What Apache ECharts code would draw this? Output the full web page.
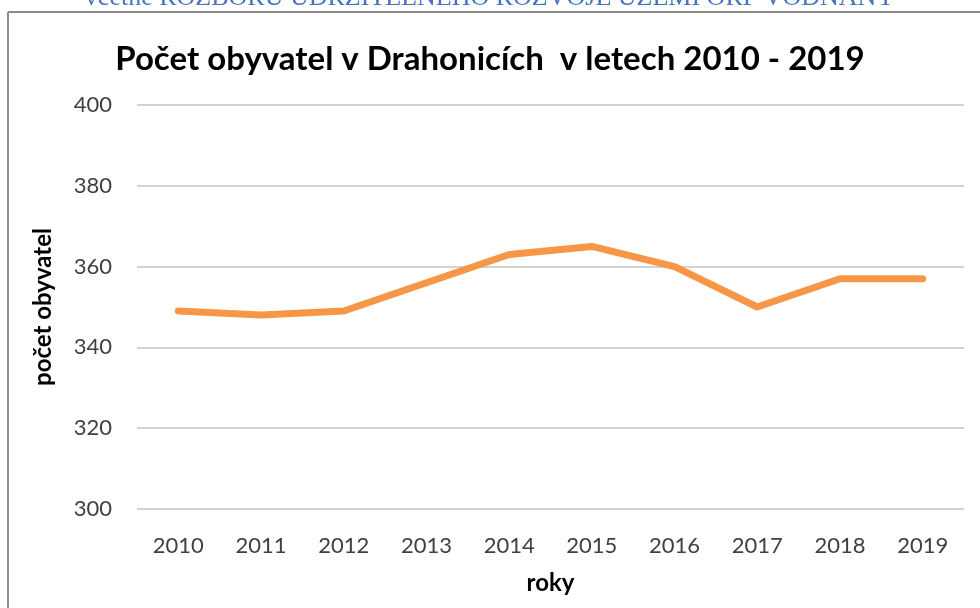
<!DOCTYPE html>
<html>
<head>
<meta charset="utf-8">
<script src="https://cdn.jsdelivr.net/npm/echarts@6/dist/echarts.min.js"></script>
<style>html,body{margin:0;padding:0;background:#fff;}#c{width:980px;height:608px;}</style>
</head>
<body>
<div id="c"></div>
<script>
const years = ['2010','2011','2012','2013','2014','2015','2016','2017','2018','2019'];
const population = [349, 348, 349, 356, 363, 365, 360, 350, 357, 357];
const titleText = 'Počet obyvatel v Drahonicích  v letech 2010 - 2019';
const headerText = 'včetně ROZBORU UDRŽITELNÉHO ROZVOJE ÚZEMÍ ORP VODŇANY';
const yName = 'počet obyvatel';
const xName = 'roky';

const chart = echarts.init(document.getElementById('c'), null, {renderer: 'canvas'});
chart.setOption({
  backgroundColor: '#fff',
  animation: false,
  title: {
    text: titleText,
    left: 'center',
    top: 38,
    textStyle: {fontFamily: 'Lato', fontWeight: 'bold', fontSize: 33, color: '#000'}
  },
  graphic: [
    {type: 'text', left: 'center', top: -15, style: {text: headerText, font: '26px "Liberation Serif"', fill: '#4472C4'}},
    {type: 'line', shape: {x1: 8, y1: 12, x2: 980, y2: 12}, style: {stroke: '#8c8c8c', lineWidth: 2}},
    {type: 'line', shape: {x1: 8, y1: 12, x2: 8, y2: 608}, style: {stroke: '#8c8c8c', lineWidth: 2}}
  ],
  grid: {left: 137, right: 16, top: 105, bottom: 99},
  xAxis: {
    type: 'category',
    data: years,
    boundaryGap: true,
    name: xName,
    nameLocation: 'middle',
    nameGap: 62,
    nameTextStyle: {fontFamily: 'Lato', fontWeight: 'bold', fontSize: 24, color: '#000'},
    axisLine: {show: false},
    axisTick: {show: false},
    axisLabel: {fontFamily: 'Lato', fontSize: 22, color: '#404040', margin: 26}
  },
  yAxis: {
    type: 'value',
    min: 300,
    max: 400,
    interval: 20,
    name: yName,
    nameLocation: 'middle',
    nameGap: 82,
    nameTextStyle: {fontFamily: 'Lato', fontWeight: 'bold', fontSize: 24, color: '#000'},
    axisLine: {show: false},
    axisTick: {show: false},
    axisLabel: {fontFamily: 'Lato', fontSize: 22, color: '#404040', margin: 25},
    splitLine: {lineStyle: {color: '#c4c4c4', width: 1.5}}
  },
  series: [{
    type: 'line',
    data: population,
    symbol: 'none',
    smooth: false,
    lineStyle: {color: '#F79646', width: 7, cap: 'round', join: 'round'}
  }]
});
</script>
</body>
</html>
